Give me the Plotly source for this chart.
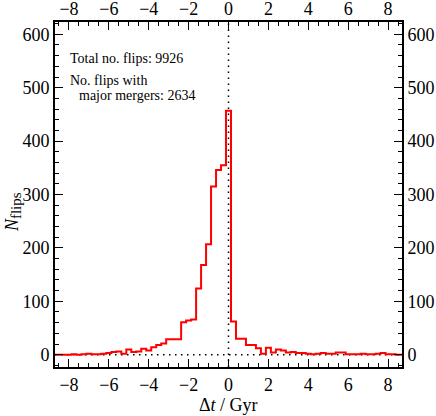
import numpy as np
import plotly.graph_objects as go

# histogram of flip times relative to the merger, bins of 0.25 Gyr
bin_width = 0.25
bin_centers = np.arange(-8.75, 8.75 + bin_width / 2, bin_width)

counts_before = [0, 0, 0, 0, 1, 0, 1, 2, 1, 1, 2, 3, 5, 6, 2, 10, 5, 6,
                 11, 8, 14, 18, 21, 29, 29, 29, 61, 64, 66, 124, 168, 207,
                 315, 346, 355]
count_peak = [457]
counts_after = [62, 30, 30, 18, 18, 12, 2, 13, 4, 10, 8, 4, 5, 3, 3, 2, 1,
                2, 3, 2, 2, 4, 4, 1, 1, 1, 2, 1, 1, 2, 3, 1, 1, 0, 0]
counts = counts_before + count_peak + counts_after

total_flips = 9926
major_merger_flips = 2634

x_range = [-8.7, 8.7]
y_range = [-23, 623]
x_ticks = [-8, -6, -4, -2, 0, 2, 4, 6, 8]
y_ticks = [0, 100, 200, 300, 400, 500, 600]

serif = "Liberation Serif, Times New Roman, serif"

fig = go.Figure()

fig.add_trace(go.Scatter(
    x=bin_centers, y=counts,
    mode="lines",
    line=dict(color="red", width=2, shape="hvh"),
    showlegend=False,
    hoverinfo="skip",
))
# dummy trace so the top/right axes get drawn with labels
fig.add_trace(go.Scatter(
    x=bin_centers, y=counts,
    xaxis="x2", yaxis="y2",
    mode="lines",
    line=dict(color="rgba(0,0,0,0)", width=0),
    showlegend=False,
    hoverinfo="skip",
))

axis_common = dict(
    showgrid=False, zeroline=False, automargin=False,
    ticks="inside", ticklen=8, tickwidth=1.3, tickcolor="black",
    showline=True, linecolor="black", linewidth=2,
    tickfont=dict(family=serif, size=18, color="black"),
)

fig.update_layout(
    width=436, height=416,
    margin=dict(l=55, r=34, t=22, b=49),
    paper_bgcolor="white",
    plot_bgcolor="white",
    xaxis=dict(
        range=x_range, tickvals=x_ticks, mirror=True,
        minor=dict(dtick=0.5, tick0=0, ticks="inside", ticklen=4, tickcolor="black", tickwidth=1),
        **axis_common,
    ),
    yaxis=dict(
        range=y_range, tickvals=y_ticks, mirror=True,
        minor=dict(dtick=20, tick0=0, ticks="inside", ticklen=4, tickcolor="black", tickwidth=1),
        **axis_common,
    ),
    xaxis2=dict(
        range=x_range, tickvals=x_ticks, overlaying="x", side="top",
        ticklabelstandoff=-2,
        minor=dict(dtick=0.5, tick0=0, ticks="inside", ticklen=4, tickcolor="black", tickwidth=1),
        **axis_common,
    ),
    yaxis2=dict(
        range=y_range, tickvals=y_ticks, overlaying="y", side="right",
        minor=dict(dtick=20, tick0=0, ticks="inside", ticklen=4, tickcolor="black", tickwidth=1),
        **axis_common,
    ),
)

# dotted reference lines at dt = 0 and N = 0
fig.add_shape(type="line", xref="x", yref="paper", x0=0, x1=0, y0=0, y1=1,
              line=dict(color="black", width=1.5, dash="1.5px,4.5px"), layer="below")
fig.add_shape(type="line", xref="paper", yref="y", x0=0, x1=1, y0=0, y1=0,
              line=dict(color="black", width=1.5, dash="1.5px,4.5px"), layer="below")

note_font = dict(family=serif, size=14, color="black")
fig.add_annotation(x=-8.06, y=554, xref="x", yref="y", xanchor="left", yanchor="middle",
                   text=f"Total no. flips: {total_flips}", showarrow=False, font=note_font)
fig.add_annotation(x=-8.06, y=514, xref="x", yref="y", xanchor="left", yanchor="middle",
                   text="No. flips with", showarrow=False, font=note_font)
fig.add_annotation(x=-7.62, y=486, xref="x", yref="y", xanchor="left", yanchor="middle",
                   text=f"major mergers: {major_merger_flips}", showarrow=False, font=note_font)

title_font = dict(family=serif, size=18, color="black")
fig.add_annotation(x=0.5, y=-0.11, xref="paper", yref="paper", xanchor="center", yanchor="middle",
                   text="Δ<i>t</i> / Gyr", showarrow=False, font=title_font)
fig.add_annotation(x=-0.12, y=0.45, xref="paper", yref="paper", xanchor="center", yanchor="middle",
                   text="<i>N</i><sub><span style='font-size:15px'>flips</span></sub>",
                   textangle=-90, showarrow=False, font=title_font)

# page body has a default 8px margin, drop it so the figure sits at the window corner
fig.write_html("out.html", config={"displayModeBar": False},
               post_script="document.body.style.margin='0';document.body.style.overflow='hidden';")
